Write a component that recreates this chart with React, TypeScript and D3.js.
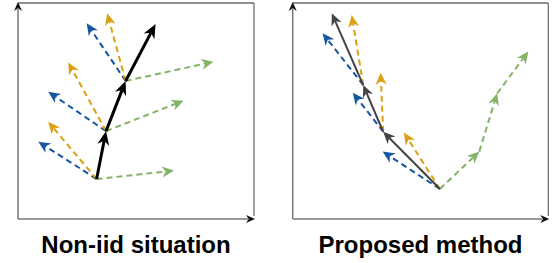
import React from "react";
import * as d3 from "d3";

type Pt = [number, number];

// panel coordinates, 0..100 on both axes
const titles = ["Non-iid situation", "Proposed method"];

// left panel: the global path and each client's drift
const leftPath: Pt[] = [[33.3, 18.5], [37.3, 40.7], [45.6, 63.9], [58.3, 90.3]];
const leftBlue: Pt[] = [[8.6, 35.8], [12.8, 58.9], [29.1, 90.6]];
const leftOrange: Pt[] = [[12.8, 45.0], [21.3, 72.5], [37.8, 95.2]];
const leftGreen: Pt[] = [[66.1, 22.4], [70.2, 54.8], [82.8, 72.8]];

// right panel
const rightPath: Pt[] = [[57.6, 13.9], [35.4, 40.4], [27.6, 62.0], [15.3, 95.2]];
const rightBlue: Pt[] = [[35.2, 31.2], [23.5, 58.5], [11.7, 86.0]];
const rightOrange: Pt[] = [[43.5, 40.0], [34.4, 67.7], [23.1, 94.4]];
const rightGreen: Pt[] = [[57.6, 13.9], [73.0, 31.2], [80.0, 58.2], [92.2, 77.5]];

const BLUE = "#14569f";
const ORANGE = "#dba112";
const GREEN = "#82b366";

const W = 558;
const H = 263;

const Arrow = ({ a, b, color, width, dash, len, wid }: any) => {
  const ang = Math.atan2(b[1] - a[1], b[0] - a[0]);
  const c = Math.cos(ang), s = Math.sin(ang);
  const at = (u: number, v: number) => [b[0] + u * c - v * s, b[1] + u * s + v * c];
  const notch = at(-len * 0.7, 0);
  const pts = [at(0, 0), at(-len, wid / 2), notch, at(-len, -wid / 2)];
  return (
    <g>
      <line x1={a[0]} y1={a[1]} x2={notch[0]} y2={notch[1]} stroke={color}
        strokeWidth={width} strokeDasharray={dash} />
      <polygon points={pts.map((p) => p.join(",")).join(" ")} fill={color} />
    </g>
  );
};

const Panel = ({ x0, x1, title, path, blue, orange, green, chainGreen, main }: any) => {
  const top = 3, bottom = 219;
  const x = d3.scaleLinear().domain([0, 100]).range([x0, x1]);
  const y = d3.scaleLinear().domain([0, 100]).range([bottom, top]);
  const P = (d: Pt): Pt => [x(d[0]), y(d[1])];
  const dash = "6,4";
  const starts = path.slice(0, 3);
  const hd = { len: 12, wid: 11 };
  return (
    <g>
      <line x1={x0} y1={top} x2={x1} y2={top} stroke="#222" strokeWidth={1} />
      <line x1={x1} y1={top} x2={x1} y2={bottom - 3} stroke="#666" strokeWidth={1.2} />
      <Arrow a={[x0, bottom]} b={[x0, top - 1]} color="#111" width={0} len={9} wid={8} />
      <line x1={x0} y1={bottom} x2={x0} y2={top + 6} stroke="#777" strokeWidth={1.5} />
      <Arrow a={[x0, bottom]} b={[x1 + 1, bottom]} color="#111" width={0} len={9} wid={8} />
      <line x1={x0} y1={bottom} x2={x1 - 6} y2={bottom} stroke="#777" strokeWidth={1.5} />

      {starts.map((d: Pt, i: number) => (
        <Arrow key={"b" + i} a={P(d)} b={P(blue[i])} color={BLUE} width={2} dash={dash} {...hd} />
      ))}
      {starts.map((d: Pt, i: number) => (
        <Arrow key={"o" + i} a={P(d)} b={P(orange[i])} color={ORANGE} width={2} dash={dash} {...hd} />
      ))}
      {chainGreen
        ? green.slice(1).map((d: Pt, i: number) => (
            <Arrow key={"g" + i} a={P(green[i])} b={P(d)} color={GREEN} width={2} dash={dash} {...hd} />
          ))
        : starts.map((d: Pt, i: number) => (
            <Arrow key={"g" + i} a={P(d)} b={P(green[i])} color={GREEN} width={2} dash={dash} {...hd} />
          ))}
      {path.slice(1).map((d: Pt, i: number) => (
        <Arrow key={"m" + i} a={P(path[i])} b={P(d)} color={main.color} width={main.width} len={main.len} wid={main.wid} />
      ))}

      <text x={(x0 + x1) / 2} y={253} textAnchor="middle" fontFamily="'Liberation Sans', Arial, sans-serif"
        fontWeight="bold" fontSize={24} fill="#000">{title}</text>
    </g>
  );
};

export default function App() {
  return (
    <div style={{ position: "fixed", left: 0, top: 0 }}>
      <svg width={W} height={H} style={{ display: "block", background: "#fff" }}>
        <Panel x0={18} x1={254} title={titles[0]} path={leftPath} blue={leftBlue}
          orange={leftOrange} green={leftGreen} chainGreen={false}
          main={{ color: "#000", width: 3, len: 14, wid: 12 }} />
        <Panel x0={292.7} x1={548.3} title={titles[1]} path={rightPath} blue={rightBlue}
          orange={rightOrange} green={rightGreen} chainGreen={true}
          main={{ color: "#444", width: 2, len: 12, wid: 11 }} />
      </svg>
    </div>
  );
}
